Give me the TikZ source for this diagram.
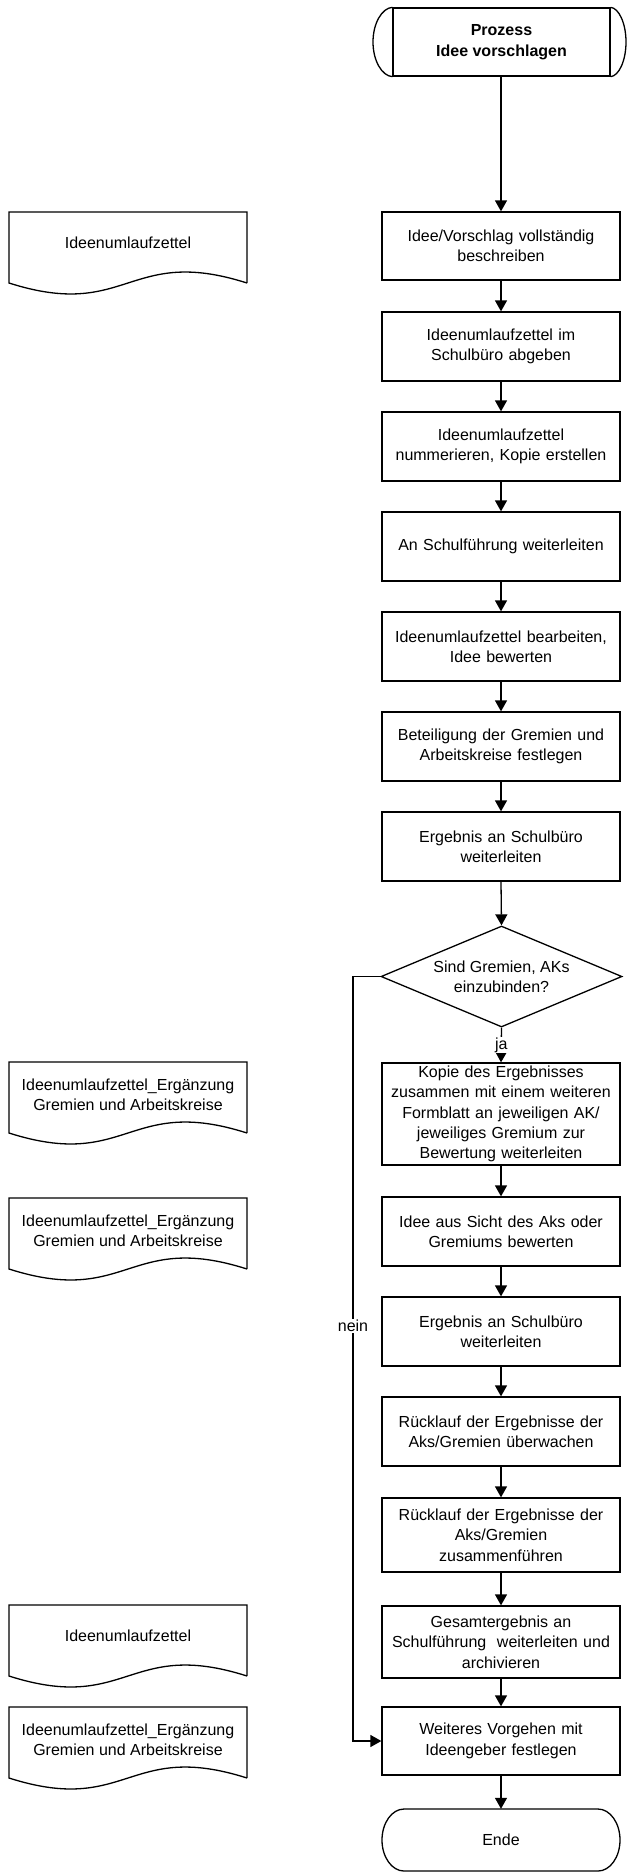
\documentclass[tikz,border=0pt]{standalone}
\usepackage{fontspec}
\setmainfont{Liberation Sans}
\usetikzlibrary{arrows.meta,shapes.geometric}
\begin{document}
\begin{tikzpicture}[x=1pt,y=-1pt,
  every node/.style={font=\fontsize{16}{20.4}\selectfont},
  ln/.style={line width=1.3pt},
  arr/.style={ln,-{Triangle[length=11pt,width=12pt]}},
  proc/.style={draw,ln,minimum width=238pt,text width=228pt,align=center,inner sep=0pt},
  dec/.style={draw,ln,shape=diamond,aspect=2.386,minimum width=241pt,minimum height=101pt,inner sep=0pt,align=center},
  term/.style={minimum width=217pt,minimum height=68pt,inner sep=0pt,align=center},
  doctext/.style={align=center,inner sep=0pt},
  lbl/.style={fill=white,inner sep=1pt}
]
\useasboundingbox[fill=white] (0,0) rectangle (627,1874);

% document shapes on the left
\newcommand\mydocshape[1]{%
  \draw[ln] (247,#1+71) -- (247,#1) -- (9,#1) -- (9,#1+71)
    .. controls (128,#1+109) and (128,#1+33) .. (247,#1+71);}
\mydocshape{212}
\mydocshape{1062}
\mydocshape{1198}
\mydocshape{1605}
\mydocshape{1707}
\node[doctext] (dA) at (128,243) {Ideenumlaufzettel};
\node[doctext] (dB) at (128,1095) {Ideenumlaufzettel\_Ergänzung\\Gremien und Arbeitskreise};
\node[doctext] (dC) at (128,1231) {Ideenumlaufzettel\_Ergänzung\\Gremien und Arbeitskreise};
\node[doctext] (dD) at (128,1636) {Ideenumlaufzettel};
\node[doctext] (dE) at (128,1740) {Ideenumlaufzettel\_Ergänzung\\Gremien und Arbeitskreise};

% start terminator
\node[term,draw,ln,font=\fontsize{16}{20.4}\selectfont\bfseries] (start) at (501.5,42) {Prozess\\Idee vorschlagen};
\draw[ln] (start.north west) .. controls (382,8) and (373,23.2) .. (373,42)
  .. controls (373,60.8) and (382,76) .. (start.south west);
\draw[ln] (start.north east) .. controls (618.8,8) and (626,23.2) .. (626,42)
  .. controls (626,60.8) and (618.8,76) .. (start.south east);

% process steps
\node[proc,minimum height=68pt] (b1) at (501,246) {Idee/Vorschlag vollständig\\beschreiben};
\node[proc,minimum height=69pt] (b2) at (501,346.5) {Ideenumlaufzettel im\\Schulbüro abgeben};
\node[proc,minimum height=69pt] (b3) at (501,446.5) {Ideenumlaufzettel\\nummerieren, Kopie erstellen};
\node[proc,minimum height=69pt] (b4) at (501,546.5) {An Schulführung weiterleiten};
\node[proc,minimum height=69pt] (b5) at (501,646.5) {Ideenumlaufzettel bearbeiten,\\Idee bewerten};
\node[proc,minimum height=69pt] (b6) at (501,746.5) {Beteiligung der Gremien und\\Arbeitskreise festlegen};
\node[proc,minimum height=69pt] (b7) at (501,846.5) {Ergebnis an Schulbüro\\weiterleiten};
\node[dec] (dia) at (501.5,976.5) {Sind Gremien, AKs\\einzubinden?};
\node[proc,minimum height=102pt] (b8) at (501,1114) {Kopie des Ergebnisses\\zusammen mit einem weiteren\\Formblatt an jeweiligen AK/\\jeweiliges Gremium zur\\Bewertung weiterleiten};
\node[proc,minimum height=69pt] (b9) at (501,1231.5) {Idee aus Sicht des Aks oder\\Gremiums bewerten};
\node[proc,minimum height=69pt] (b10) at (501,1331.5) {Ergebnis an Schulbüro\\weiterleiten};
\node[proc,minimum height=69pt] (b11) at (501,1431.5) {Rücklauf der Ergebnisse der\\Aks/Gremien überwachen};
\node[proc,minimum height=74pt] (b12) at (501,1535) {Rücklauf der Ergebnisse der\\Aks/Gremien\\zusammenführen};
\node[proc,minimum height=72pt] (b13) at (501,1642) {Gesamtergebnis an\\Schulführung\ \ weiterleiten und\\archivieren};
\node[proc,minimum height=68pt] (b14) at (501,1741) {Weiteres Vorgehen mit\\Ideengeber festlegen};

% end terminator
\node[minimum width=238pt,minimum height=62pt,inner sep=0pt] (ende) at (501,1840) {Ende};
\draw[ln] (404,1809) -- (598,1809) .. controls (610.1,1809) and (620,1822.9) .. (620,1840)
  .. controls (620,1857.1) and (610.1,1871) .. (598,1871) -- (404,1871)
  .. controls (391.9,1871) and (382,1857.1) .. (382,1840)
  .. controls (382,1822.9) and (391.9,1809) .. (404,1809) -- cycle;

% connectors
\draw[arr] (start.south -| b1.north) -- (b1.north);
\draw[arr] (b1) -- (b2);
\draw[arr] (b2) -- (b3);
\draw[arr] (b3) -- (b4);
\draw[arr] (b4) -- (b5);
\draw[arr] (b5) -- (b6);
\draw[arr] (b6) -- (b7);
\draw[arr] (b7.south) -- (dia.north);
\draw[arr] (dia.south) -- node[lbl] (ja) {ja} (b8.north);
\draw[arr] (b8) -- (b9);
\draw[arr] (b9) -- (b10);
\draw[arr] (b10) -- (b11);
\draw[arr] (b11) -- (b12);
\draw[arr] (b12) -- (b13);
\draw[arr] (b13) -- (b14);
\draw[arr] (b14.south) -- (ende.north);
\coordinate (nx) at (353,976.5);
\draw[arr] (dia.west) -- (nx) |- (b14.west);
\node[lbl] (nein) at (353,1326) {nein};
\end{tikzpicture}
\end{document}
